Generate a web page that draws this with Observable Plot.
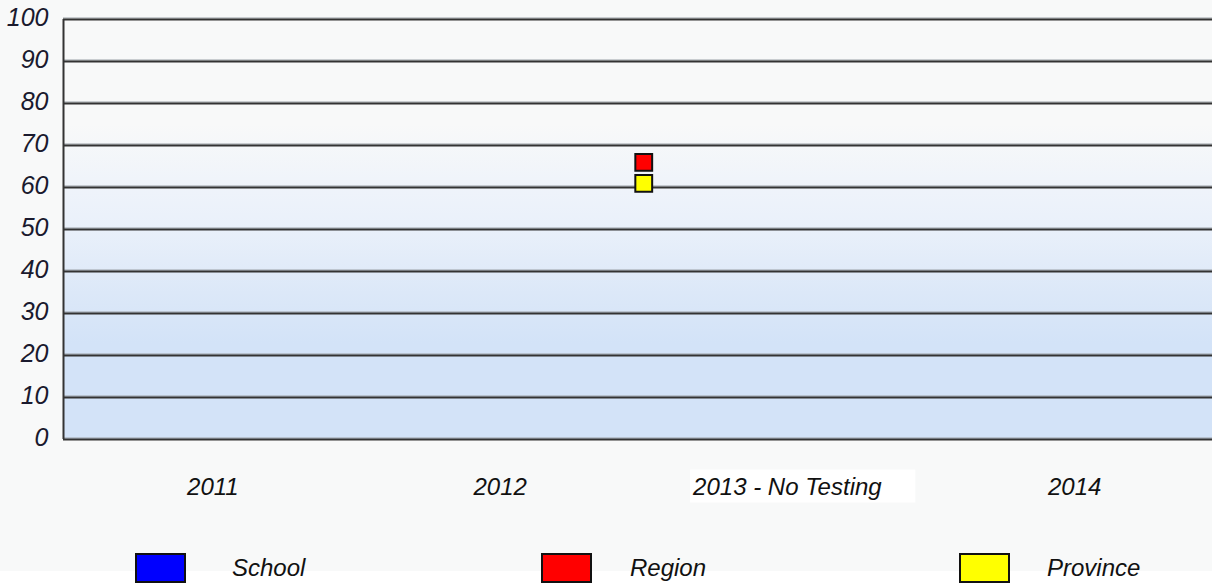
<!DOCTYPE html>
<html><head><meta charset="utf-8">
<script src="https://cdn.jsdelivr.net/npm/d3@7"></script>
<script src="https://cdn.jsdelivr.net/npm/@observablehq/plot@0.6"></script>
<style>
html,body{margin:0;padding:0;background:#f8f9f9;font-family:"Liberation Sans",Arial,sans-serif;}
#chart{width:1212px;height:540px;}
#legend{position:relative;width:1212px;height:47px;background:linear-gradient(#f8f9f9 0px,#f8f9f9 31px,#ffffff 31px,#ffffff 47px);}
.sw{position:absolute;top:13px;width:47px;height:26px;border:2px solid #111;}
.lt{position:absolute;top:16px;font-style:italic;font-size:24px;line-height:24px;color:#111;white-space:nowrap;}
</style>
</head><body>
<div id="chart"></div>
<div id="legend"></div>
<script>
// ---- data ----
const categories = ["2011", "2012", "2013 - No Testing", "2014"];
const seriesNames = ["School", "Region", "Province"];
const seriesColors = ["#0000ff", "#ff0000", "#ffff00"];
const schoolValues = [null, null, null, null];
const regionValues = [null, 66, null, null];
const provinceValues = [null, 61, null, null];
const yTicks = [0, 10, 20, 30, 40, 50, 60, 70, 80, 90, 100];

// ---- layout ----
const W = 1212, H = 540;
const xDomain = [-0.02, 3.98];

const seriesValues = [schoolValues, regionValues, provinceValues];
const points = [];
seriesValues.forEach((vals, s) => {
  vals.forEach((v, i) => {
    if (v != null) points.push({slot: i + 1, value: v, series: seriesNames[s], color: seriesColors[s]});
  });
});
points.sort((a, b) => a.value - b.value);

const tickPos = categories.map((c, i) => i + 0.5);

const plot = Plot.plot({
  width: W,
  height: H,
  marginLeft: 63,
  marginRight: 0,
  marginTop: 19,
  marginBottom: 101,
  style: {background: "#f8f9f9", fontFamily: "'Liberation Sans', Arial, sans-serif", color: "#111", overflow: "visible"},
  x: {type: "linear", domain: xDomain, label: null},
  y: {domain: [0, 100], label: null},
  marks: [
    Plot.frame({fill: "url(#bgGrad)", stroke: null}),
    Plot.ruleY(yTicks, {stroke: "#9aa0a6", strokeWidth: 1, dy: -1.5}),
    Plot.ruleY(yTicks, {stroke: "#333333", strokeWidth: 2}),
    Plot.ruleX([xDomain[0]], {y1: 0, y2: 100, stroke: "#333333", strokeWidth: 2}),
    Plot.axisY({ticks: yTicks, label: null, tickSize: 0, tickPadding: 15, fontSize: 25, fontStyle: "italic", fill: "#1a1a2e", dy: -2}),
    Plot.axisX({ticks: tickPos, label: null, tickFormat: d => categories[Math.floor(d)], tickSize: 0, tickPadding: 38, fontSize: 24, fontStyle: "italic", fill: "#111"}),
    Plot.dot(points, {x: "slot", y: "value", symbol: "square", r: 9.5, fill: "color", stroke: "#111", strokeWidth: 2})
  ]
});

document.getElementById("chart").appendChild(plot);

const svg = d3.select(plot);
svg.insert("defs", ":first-child").html(
  '<linearGradient id="bgGrad" x1="0" y1="0" x2="0" y2="1">' +
  '<stop offset="0" stop-color="#f8f9f9"/>' +
  '<stop offset="0.25" stop-color="#f8f9f9"/>' +
  '<stop offset="0.38" stop-color="#f0f4fa"/>' +
  '<stop offset="0.5" stop-color="#e9f0fa"/>' +
  '<stop offset="0.65" stop-color="#dce8f8"/>' +
  '<stop offset="0.77" stop-color="#d3e3f8"/>' +
  '<stop offset="1" stop-color="#d3e3f8"/>' +
  '</linearGradient>');

// white box behind the "No Testing" label
svg.selectAll("text").each(function() {
  if (this.textContent === categories[2]) {
    const b = this.getBBox();
    const cy = b.y + b.height / 2;
    const r = d3.select(this.parentNode).insert("rect", ":first-child")
      .attr("x", b.x - 2).attr("y", cy - 16.5)
      .attr("width", b.width + 35).attr("height", 33)
      .attr("fill", "#ffffff");
    const t = this.getAttribute("transform");
    if (t) r.attr("transform", t);
  }
});

// legend
const legend = d3.select("#legend");
const swLeft = [135, 541, 959];
const txtLeft = [232, 630, 1047];
seriesNames.forEach((name, i) => {
  legend.append("div").attr("class", "sw").style("left", swLeft[i] + "px").style("background", seriesColors[i]);
  legend.append("div").attr("class", "lt").style("left", txtLeft[i] + "px").text(name);
});
</script>
</body></html>
